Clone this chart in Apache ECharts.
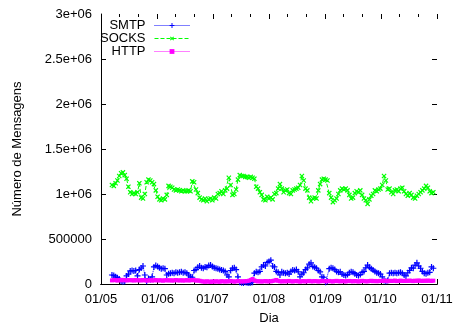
<!DOCTYPE html>
<html>
<head>
<meta charset="utf-8">
<script src="https://cdn.jsdelivr.net/npm/echarts@6/dist/echarts.min.js"></script>
<style>
  html, body { margin: 0; padding: 0; background: #ffffff; }
  #chart { width: 455px; height: 326px; }
</style>
</head>
<body>
<div id="chart"></div>
<script>
// primeiro dia com dados e inicio de cada mes do eixo x
const firstDay = [2009, 4, 7]
const monthStarts = [[2009, 4, 1], [2009, 5, 1], [2009, 6, 1], [2009, 7, 1], [2009, 8, 1], [2009, 9, 1], [2009, 10, 1]]
const yTickLabels = ['0', '500000', '1e+06', '1.5e+06', '2e+06', '2.5e+06', '3e+06']
const seriesNames = ['SMTP', 'SOCKS', 'HTTP']

// mensagens por dia, em milhares
const smtp = [
  100, 95, 80, 70, 55, 30, 25, 30, 90, 110,
  145, 150, 145, 150, 90, 160, 178, 200, 100, 30,
  60, 50, 80, 190, 205, 195, 180, 170, 175, 170,
  100, 115, 120, 125, 120, 130, 125, 130, 135, 125,
  130, 120, 100, 80, 75, 150, 160, 185, 200, 180,
  175, 190, 185, 205, 210, 195, 180, 175, 170, 160,
  155, 150, 140, 100, 80, 150, 175, 180, 160, 80,
  20, 15, 10, 20, 15, 10, 15, 20, 120, 135,
  130, 140, 190, 210, 200, 240, 250, 265, 200, 190,
  140, 130, 100, 135, 125, 120, 125, 110, 140, 155,
  150, 160, 135, 80, 110, 125, 160, 180, 220, 235,
  195, 185, 175, 150, 135, 80, 75, 20, 30, 170,
  180, 175, 160, 140, 130, 135, 110, 100, 95, 105,
  125, 135, 130, 115, 100, 95, 105, 130, 140, 180,
  210, 185, 170, 155, 140, 125, 120, 110, 80, 40,
  30, 40, 120, 125, 120, 125, 120, 125, 130, 120,
  100, 90, 125, 150, 180, 175, 210, 235, 200, 175,
  140, 120, 115, 125, 130, 190, 175
]
const socks = [
  1100, 1090, 1120, 1150, 1200, 1230, 1240, 1210, 1170, 1080,
  1020, 1000, 1010, 1000, 1020, 1120, 960, 950, 1000, 1130,
  1160, 1150, 1130, 1110, 1040, 970, 940, 930, 950, 940,
  990, 1090, 1080, 1070, 1050, 1040, 1050, 1040, 1030, 1040,
  1030, 1030, 1040, 1030, 1140, 1130, 1050, 1010, 960, 940,
  930, 950, 920, 940, 950, 930, 960, 950, 1000, 1010,
  1030, 1000, 1040, 1060, 1180, 1100, 990, 1000, 1050, 1160,
  1210, 1200, 1200, 1190, 1190, 1180, 1190, 1180, 1170, 1080,
  1060, 1020, 990, 940, 930, 970, 950, 960, 940, 1000,
  1010, 1060, 1110, 1060, 1020, 1040, 1050, 1010, 1000, 1040,
  1050, 1060, 1070, 1100, 1200, 1150, 1060, 1040, 960, 920,
  950, 960, 950, 1040, 1110, 1160, 1170, 1160, 1150, 1010,
  960, 910, 930, 950, 1000, 1040, 1060, 1050, 1060, 1040,
  990, 950, 960, 1010, 1030, 1020, 1040, 990, 950, 930,
  890, 940, 980, 1000, 1040, 1030, 1050, 1060, 1100, 1200,
  1150, 1050, 1060, 1020, 1000, 1040, 1050, 1030, 1060, 1070,
  1030, 1000, 980, 1010, 990, 960, 950, 980, 1000, 1020,
  1040, 1060, 1090, 1070, 1030, 1010, 1020
]
const http = [
  40, 45, 42, 38, 44, 40, 46, 42, 39, 44,
  41, 43, 38, 45, 40, 42, 39, 44, 41, 37,
  40, 43, 38, 41, 44, 39, 42, 40, 37, 41,
  43, 39, 42, 38, 40, 44, 41, 39, 42, 38,
  40, 43, 39, 41, 45, 42, 38, 40, 36, 30,
  28, 25, 30, 27, 24, 29, 26, 30, 28, 25,
  32, 29, 27, 31, 28, 34, 30, 26, 29, 33,
  30, 27, 31, 29, 33, 36, 45, 55, 40, 32,
  29, 31, 27, 30, 33, 28, 31, 29, 34, 38,
  45, 35, 30, 28, 32, 29, 31, 34, 30, 28,
  31, 33, 29, 27, 30, 32, 28, 31, 34, 30,
  29, 33, 31, 28, 30, 35, 32, 29, 31, 34,
  30, 28, 32, 35, 31, 29, 33, 30, 28, 32,
  34, 31, 29, 33, 30, 28, 31, 35, 32, 30,
  29, 33, 36, 31, 34, 30, 32, 35, 33, 37,
  34, 31, 36, 33, 35, 38, 32, 34, 37, 35,
  33, 36, 34, 38, 35, 32, 37, 35, 39, 36,
  34, 37, 35, 38, 36, 34, 37
]

const DAY = 24 * 3600 * 1000
const FONT = 'Liberation Sans'
const t0 = Date.UTC(firstDay[0], firstDay[1], firstDay[2])
const toSeries = (arr) => arr.map((v, i) => [t0 + i * DAY, v * 1000])

const majorTicks = monthStarts.map((m) => Date.UTC(m[0], m[1], m[2]))
const nMonths = majorTicks.length - 1
const pad = (n) => (n < 10 ? '0' + n : '' + n)
const dayLabel = (v) => {
  const d = new Date(v)
  return pad(d.getUTCDate()) + '/' + pad(d.getUTCMonth() + 1)
}

const plusPath = 'path://M4,0H6V4H10V6H6V10H4V6H0V4H4Z'
const colors = ['#0000ff', '#00ff00', '#ff00ff']

// eixos extras so para os tracos: 1 unidade = 1 mes (max = nMonths) ou 1/3 de mes (max = 3 * nMonths)
const tickAxis = (position, max, len, lineColor) => ({
  type: 'value',
  position: position,
  min: 0,
  max: max,
  interval: 1,
  axisLine: { show: true, onZero: false, lineStyle: { color: lineColor, width: 1 } },
  axisTick: { show: true, inside: true, length: len, lineStyle: { color: '#000', width: 1 } },
  axisLabel: { show: false },
  splitLine: { show: false },
  z: 1
})

var chartDom = document.getElementById('chart')
var myChart = echarts.init(chartDom)
var option

option = {
  animation: false,
  backgroundColor: '#ffffff',
  grid: { left: 101, right: 18, top: 14, bottom: 42, containLabel: false, outerBoundsMode: 'none' },
  legend: seriesNames.map((n, i) => ({
    data: [n],
    orient: 'vertical',
    align: 'right',
    right: 265,
    top: 19 + 13 * i,
    padding: 0,
    itemWidth: 35,
    itemHeight: 6,
    selectedMode: false,
    lineStyle: { width: 1 },
    textStyle: { fontSize: 13, color: '#000', fontFamily: FONT, padding: [0, 4, 0, 0] }
  })),
  xAxis: [
    {
      type: 'value',
      position: 'bottom',
      min: majorTicks[0],
      max: majorTicks[majorTicks.length - 1],
      axisLine: { show: true, onZero: false, lineStyle: { color: '#000', width: 1 } },
      axisTick: { show: false },
      axisLabel: {
        customValues: majorTicks,
        formatter: dayLabel,
        color: '#000',
        fontSize: 13,
        fontFamily: FONT,
        margin: 9
      },
      splitLine: { show: false },
      name: 'Dia',
      nameLocation: 'middle',
      nameGap: 28,
      nameTextStyle: { fontSize: 13, color: '#000', fontFamily: FONT },
      z: 2
    },
    tickAxis('bottom', nMonths, 5, '#000'),
    tickAxis('bottom', nMonths * 3, 3, '#000'),
    tickAxis('top', nMonths, 5, '#fff'),
    tickAxis('top', nMonths * 3, 3, '#fff')
  ],
  yAxis: [
    {
      type: 'value',
      position: 'left',
      min: 0,
      max: 3000000,
      interval: 500000,
      axisLine: { show: true, onZero: false, lineStyle: { color: '#000', width: 1 } },
      axisTick: { show: true, inside: true, length: 5, lineStyle: { color: '#000' } },
      axisLabel: {
        formatter: (v) => yTickLabels[Math.round(v / 500000)],
        color: '#000',
        fontSize: 13,
        fontFamily: FONT,
        margin: 9
      },
      splitLine: { show: false },
      name: 'Número de Mensagens',
      nameLocation: 'middle',
      nameRotate: 90,
      nameGap: 77,
      nameTextStyle: { fontSize: 13, color: '#000', fontFamily: FONT }
    },
    {
      type: 'value',
      position: 'right',
      min: 0,
      max: 3000000,
      interval: 500000,
      axisLine: { show: true, onZero: false, lineStyle: { color: '#fff', width: 1 } },
      axisTick: { show: true, inside: true, length: 5, lineStyle: { color: '#000', width: 1 } },
      axisLabel: { show: false },
      splitLine: { show: false }
    }
  ],
  series: [
    {
      name: 'SMTP',
      type: 'line',
      data: toSeries(smtp),
      symbol: plusPath,
      symbolSize: 6,
      itemStyle: { color: colors[0] },
      lineStyle: { color: colors[0], width: 1, type: 'dotted' }
    },
    {
      name: 'SOCKS',
      type: 'line',
      data: toSeries(socks),
      symbol: plusPath,
      symbolRotate: 45,
      symbolSize: 6,
      itemStyle: { color: colors[1] },
      lineStyle: { color: colors[1], width: 1, type: 'dashed' }
    },
    {
      name: 'HTTP',
      type: 'line',
      data: toSeries(http),
      symbol: 'rect',
      symbolSize: 4,
      itemStyle: { color: colors[2] },
      lineStyle: { color: colors[2], width: 1, type: 'dotted' }
    }
  ]
}

option && myChart.setOption(option)
</script>
</body>
</html>
